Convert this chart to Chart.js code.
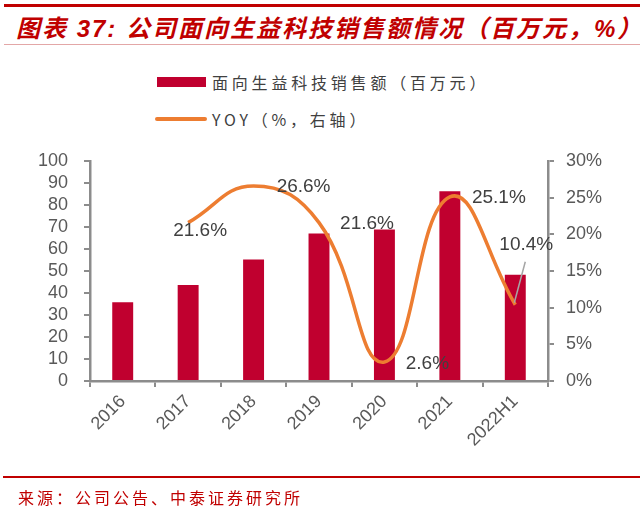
<!DOCTYPE html>
<html>
<head>
<meta charset="utf-8">
<script src="https://cdn.jsdelivr.net/npm/chart.js@4"></script>
<style>
  body { margin: 0; background: #fff; }
  #wrap { position: relative; width: 640px; height: 513px; overflow: hidden; font-family: "Liberation Sans", "Noto Sans CJK SC", sans-serif; }
  #chart { position: absolute; left: 0; top: 0; }
  .bar-top { position: absolute; left: 4px; right: 0; top: 4px; height: 3px; background: #C00000; }
  .title { position: absolute; left: 16px; top: 9px; font-size: 24px; font-weight: bold; font-style: italic; color: #C00000; letter-spacing: 2px; white-space: nowrap; }
  .title-line { position: absolute; left: 4px; right: 0; top: 44px; height: 1px; background: #e3a7a7; }
  .leg { position: absolute; font-family: "Noto Sans CJK SC", serif; font-size: 16px; color: #404040; letter-spacing: 3.8px; white-space: nowrap; }
  .leg-box { position: absolute; left: 157px; top: 77px; width: 49px; height: 10px; background: #C0002F; }
  .leg-line { position: absolute; left: 155px; top: 117px; width: 52px; height: 4px; background: #ED7D31; border-radius: 2px; }
  .foot-line { position: absolute; left: 3px; right: 0; top: 476px; height: 2px; background: #C00000; }
  .foot { position: absolute; left: 18px; top: 485px; font-family: "Noto Sans CJK SC", serif; font-size: 16px; color: #C00000; letter-spacing: 3px; white-space: nowrap; }
</style>
</head>
<body>
<div id="wrap">
  <div class="bar-top"></div>
  <div class="title">图表 37: 公司面向生益科技销售额情况（百万元，%）</div>
  <div class="title-line"></div>
  <div class="leg-box"></div>
  <div class="leg" style="left:212px;top:70px;">面向生益科技销售额（百万元）</div>
  <div class="leg-line"></div>
  <div class="leg" style="left:212px;top:107px;">YOY（%，右轴）</div>
  <canvas id="chart" width="640" height="513"></canvas>
  <div class="foot-line"></div>
  <div class="foot">来源：公司公告、中泰证券研究所</div>
</div>
<script>
const categorias = ['2016', '2017', '2018', '2019', '2020', '2021', '2022H1'];
const ventas = [35.8, 43.6, 55.2, 67.1, 68.9, 86.2, 48.3];
const yoy = [null, 21.6, 26.6, 21.6, 2.6, 25.1, 10.4];
const ticksIzq = [0, 10, 20, 30, 40, 50, 60, 70, 80, 90, 100];
const ticksDer = [0, 5, 10, 15, 20, 25, 30];

const gris = '#8c8c8c';
const textoGris = '#595959';

// etiquetas de la linea, desplazadas como en el original
const desplaza = [null, [12, 8], [50, 1], [48, 1], [43, 2], [49, 1], [11, -60]];
const etiquetas = {
  id: 'etiquetas',
  afterDatasetsDraw(chart) {
    const ctx = chart.ctx;
    const meta = chart.getDatasetMeta(1);
    ctx.save();
    ctx.font = '19px "Liberation Sans", Arial, sans-serif';
    ctx.fillStyle = '#404040';
    ctx.textAlign = 'center';
    ctx.textBaseline = 'middle';
    meta.data.forEach((pt, i) => {
      if (yoy[i] == null) return;
      const d = desplaza[i];
      if (i === 6) {
        ctx.strokeStyle = '#a6a6a6';
        ctx.lineWidth = 1.5;
        ctx.beginPath();
        ctx.moveTo(pt.x - 1, pt.y - 2);
        ctx.lineTo(pt.x + 10, pt.y - 43);
        ctx.stroke();
      }
      ctx.fillText(yoy[i].toFixed(1) + '%', pt.x + d[0], pt.y + d[1]);
    });
    ctx.restore();
  }
};

const graf = document.getElementById('chart').getContext('2d');
const miGrafica = new Chart(graf, {
  data: {
    labels: categorias,
    datasets: [{
      type: 'bar',
      label: '面向生益科技销售额（百万元）',
      data: ventas,
      backgroundColor: '#C0002F',
      categoryPercentage: 1,
      barPercentage: 0.32,
      yAxisID: 'y',
      order: 1
    }, {
      type: 'line',
      label: 'YOY（%，右轴）',
      data: yoy,
      borderColor: '#ED7D31',
      borderWidth: 3.5,
      pointRadius: 0,
      tension: 0.45,
      spanGaps: false,
      yAxisID: 'y1',
      order: 0
    }]
  },
  options: {
    responsive: false,
    animation: false,
    layout: { padding: { top: 161, left: 0, right: 0, bottom: 0 } },
    plugins: { legend: { display: false }, tooltip: { enabled: false } },
    scales: {
      x: {
        grid: { display: true, drawOnChartArea: false, drawTicks: true, tickLength: 6, color: gris, lineWidth: 2 },
        border: { color: gris, width: 2.5 },
        ticks: { color: textoGris, font: { size: 18, family: '"Liberation Sans", Arial' }, minRotation: 45, maxRotation: 45, padding: 4, autoSkip: false },
        afterFit(s) { s.height = 132; s.paddingLeft = 0; s.paddingRight = 0; }
      },
      y: {
        position: 'left',
        min: 0, max: 100,
        afterBuildTicks(s) { s.ticks = ticksIzq.map(v => ({ value: v })); },
        grid: { display: true, drawOnChartArea: false, drawTicks: true, tickLength: 6, color: gris, lineWidth: 2 },
        border: { color: gris, width: 2.5 },
        ticks: { color: textoGris, font: { size: 18, family: '"Liberation Sans", Arial' }, padding: 16, autoSkip: false },
        afterFit(s) { s.width = 90; s.paddingTop = 0; s.paddingBottom = 0; }
      },
      y1: {
        position: 'right',
        min: 0, max: 30,
        afterBuildTicks(s) { s.ticks = ticksDer.map(v => ({ value: v })); },
        grid: { display: true, drawOnChartArea: false, drawTicks: true, tickLength: 6, color: gris, lineWidth: 2 },
        border: { color: gris, width: 2.5 },
        ticks: { color: textoGris, font: { size: 18, family: '"Liberation Sans", Arial' }, padding: 12, autoSkip: false, callback: v => v + '%' },
        afterFit(s) { s.width = 92; s.paddingTop = 0; s.paddingBottom = 0; }
      }
    }
  },
  plugins: [etiquetas]
});
</script>
</body>
</html>
